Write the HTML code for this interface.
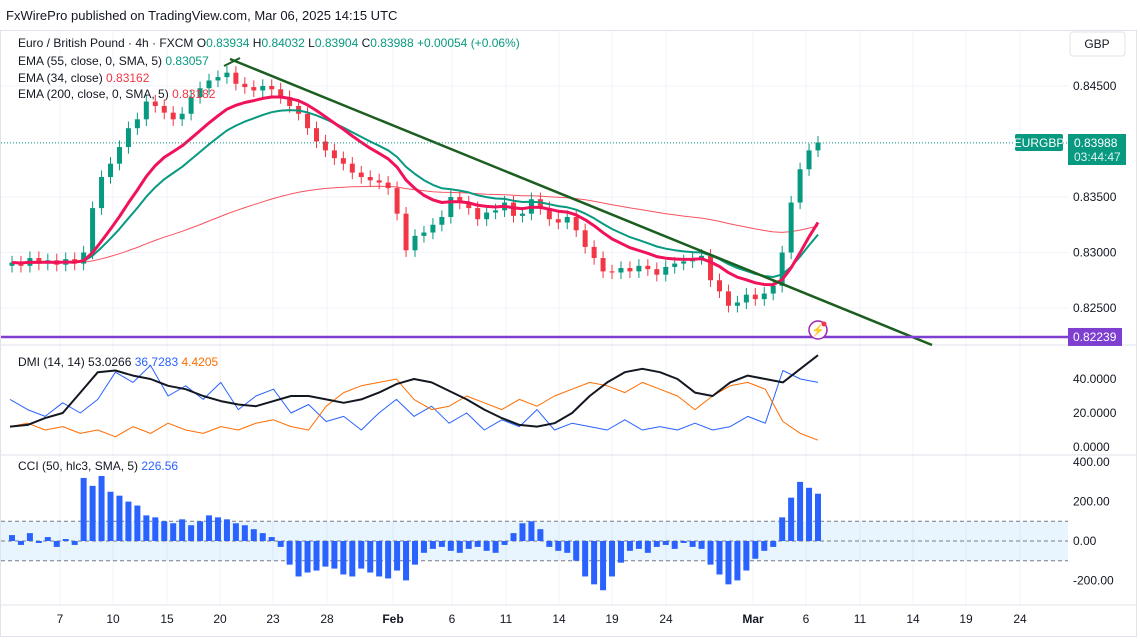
<!DOCTYPE html>
<html><head><meta charset="utf-8">
<style>
body{margin:0;background:#fff;font-family:"Liberation Sans",sans-serif;}
#wrap{position:relative;width:1140px;height:640px;overflow:hidden;}
svg text{font-family:"Liberation Sans",sans-serif;}
</style></head>
<body>
<div id="wrap">
<svg id="c" width="1140" height="640" xmlns="http://www.w3.org/2000/svg">
<rect x="0" y="0" width="1140" height="640" fill="#fff"/>
<text x="6" y="20" font-size="13" fill="#131722">FxWirePro published on TradingView.com, Mar 06, 2025 14:15 UTC</text>
<rect x="0.5" y="30.5" width="1136" height="606" fill="none" stroke="#e0e3eb"/>
<g id="grid"></g>
<g id="main"></g>
<g id="dmi"></g>
<g id="cci"></g>
<g id="axes"></g>
</svg>
</div>
<script>
const closes=[0.8291,0.8288,0.8295,0.8290,0.8293,0.8289,0.8294,0.8290,0.8300,0.8340,0.8368,0.8380,0.8395,0.8412,0.8420,0.8436,0.8432,0.8426,0.8420,0.8425,0.8440,0.8448,0.8455,0.8458,0.8462,0.8452,0.8449,0.8446,0.8450,0.8447,0.8440,0.8432,0.8425,0.8412,0.8400,0.8392,0.8385,0.8380,0.8372,0.8368,0.8365,0.8363,0.8358,0.8335,0.8302,0.8315,0.8318,0.8325,0.8332,0.8350,0.8345,0.8340,0.8330,0.8336,0.8338,0.8345,0.8333,0.8335,0.8348,0.8340,0.8330,0.8327,0.8332,0.8320,0.8305,0.8295,0.8283,0.8282,0.8286,0.8283,0.8288,0.8285,0.8280,0.8287,0.8290,0.8292,0.8295,0.8297,0.8275,0.8265,0.8252,0.8255,0.8262,0.8258,0.8263,0.8270,0.8300,0.8345,0.8375,0.8392,0.8399];
const cciVals=[30,-20,40,-10,20,-30,10,-20,320,280,330,250,230,200,180,130,120,100,90,110,80,100,130,120,110,90,80,60,40,20,-30,-120,-180,-160,-150,-130,-140,-170,-180,-140,-160,-180,-190,-150,-200,-120,-60,-40,-30,-50,-60,-40,-30,-50,-60,-20,40,90,100,60,-30,-50,-60,-100,-180,-220,-250,-180,-110,-50,-40,-60,-30,-20,-40,-10,-30,-40,-120,-170,-220,-200,-150,-90,-50,-30,120,220,300,270,240];
const adxVals=[12,13,17,20,32,44,45,42,40,36,34,30,27,25,24,27,30,30,28,26,28,32,37,40,38,33,28,22,17,13,12,14,20,30,38,44,46,44,40,32,30,38,42,40,38,46,54];
const plusDiVals=[28,22,18,26,20,28,44,38,48,30,36,28,38,22,30,34,20,25,15,18,10,20,28,18,24,14,20,10,16,12,22,10,14,12,10,16,10,12,10,14,10,12,18,14,45,40,38];
const minusDiVals=[12,14,10,12,8,10,6,12,8,14,10,8,12,10,14,16,12,10,24,32,36,38,40,28,22,24,30,26,22,28,24,30,34,38,36,32,38,34,30,22,30,36,38,34,15,8,4];
const priceTicks=[0.845,0.835,0.830,0.825];
const dmiTicks=[40,20,0];
const cciTicks=[400,200,0,-200];
const timeLabels=["7","10","15","20","23","28","Feb","6","11","14","19","24","Mar","6","11","14","19","24"];

const NS="http://www.w3.org/2000/svg";
function mk(tag,attrs,parent){const e=document.createElementNS(NS,tag);for(const k in attrs)e.setAttribute(k,attrs[k]);parent.appendChild(e);return e;}
const X0=12,X1=818,N=closes.length;
const bx=i=>X0+i*(X1-X0)/(N-1);
const py=p=>86+(0.845-p)/0.005*55.5;
const dy=v=>447-v*1.7;
const cy=v=>541-v*0.197;
const timeX=[60,113,167,220,273,327,393,452,506,559,612,666,753,806,860,913,966,1020];
const grid=document.getElementById('grid'),main=document.getElementById('main'),dmi=document.getElementById('dmi'),cci=document.getElementById('cci'),axes=document.getElementById('axes');
timeX.forEach(x=>{const l=mk('line',{x1:x,y1:31,x2:x,y2:605,stroke:'#f0f3fa'},grid);});
priceTicks.forEach(p=>{const l=mk('line',{x1:1,y1:py(p),x2:1068,y2:py(p),stroke:'#f0f3fa'},grid);});
[345,455,605].forEach(y=>{const l=mk('line',{x1:1,y1:y,x2:1136,y2:y,stroke:'#e0e3eb'},grid);});
function ema(arr,n){const k=2/(n+1);let o=[],v=arr[0];arr.forEach(a=>{v=a*k+v*(1-k);o.push(v);});return o;}
function line(vals,yf,xf,color,w,parent,name){const d=vals.map((v,i)=>(i?'L':'M')+xf(i).toFixed(1)+','+yf(v).toFixed(1)).join('');const p=mk('path',{d:d,fill:'none',stroke:color,'stroke-width':w,'stroke-linejoin':'round'},parent);}
line(ema(closes,80),py,bx,'#f7525f',1,main,'ema-200-line');
closes.forEach((c,i)=>{const o=i?closes[i-1]:c-0.0003;const up=c>=o;const col=up?'#089981':'#f23645';
const hi=Math.max(o,c)+0.0006,lo=Math.min(o,c)-0.0006;const x=bx(i);
const w=mk('line',{x1:x,y1:py(hi),x2:x,y2:py(lo),stroke:col,'stroke-width':1},main);
const top=py(Math.max(o,c)),h=Math.max(1,py(Math.min(o,c))-top);
const r=mk('rect',{x:x-2.5,y:top,width:5,height:h,fill:col},main);});
line(ema(closes,18),py,bx,'#089981',2,main,'ema-55-line');
line(ema(closes,12),py,bx,'#f0135a',3,main,'ema-34-line');
let t=mk('line',{x1:230,y1:59,x2:932,y2:345,stroke:'#1b5e20','stroke-width':2.5},main);
t=mk('line',{x1:224,y1:66,x2:240,y2:58,stroke:'#1b5e20','stroke-width':2},main);
t=mk('line',{x1:1,y1:py(0.82239),x2:1068,y2:py(0.82239),stroke:'#7e3fd0','stroke-width':2.5},main);
t=mk('line',{x1:1,y1:py(0.83988),x2:1068,y2:py(0.83988),stroke:'#089981','stroke-width':1,'stroke-dasharray':'1 2'},main);
t=mk('circle',{cx:818,cy:330,r:9,fill:'#fff',stroke:'#9c27b0','stroke-width':1.5},main);
t=mk('text',{x:818,y:334,'font-size':11,fill:'#9c27b0','text-anchor':'middle'},main);t.textContent='⚡';
t=mk('circle',{cx:824,cy:324,r:2.5,fill:'#f23645'},main);
const dx=n=>i=>X0-2+i*(X1-X0+2)/(n-1);
line(plusDiVals,dy,dx(plusDiVals.length),'#2962ff',1,dmi,'plus-di-line');
line(minusDiVals,dy,dx(minusDiVals.length),'#ff6d00',1,dmi,'minus-di-line');
line(adxVals,dy,dx(adxVals.length),'#131722',2,dmi,'adx-line');
t=mk('rect',{x:1,y:cy(100),width:1067,height:cy(-100)-cy(100),fill:'rgba(33,150,243,0.1)'},cci);
[100,0,-100].forEach(v=>{const l=mk('line',{x1:1,y1:cy(v),x2:1068,y2:cy(v),stroke:'#787b86','stroke-dasharray':'4 3','stroke-width':1},cci);});
cciVals.forEach((v,i)=>{const y0=cy(0),y1=cy(v);const r=mk('rect',{x:bx(i)-3,y:Math.min(y0,y1),width:6,height:Math.abs(y1-y0),fill:'#2962ff'},cci);});
function txt(s,x,y,opts,name){const e=mk('text',Object.assign({x:x,y:y,'font-size':12,fill:'#131722'},opts||{}),axes);e.textContent=s;return e;}
priceTicks.forEach(p=>txt(p.toFixed(5),1073,py(p)+4,{},'price-tick'));
dmiTicks.forEach(v=>txt(v.toFixed(4),1073,dy(v)+4,{},'dmi-tick'));
cciTicks.forEach(v=>txt(v.toFixed(2),1073,cy(v)+4,{},'cci-tick'));
timeLabels.forEach((s,i)=>txt(s,timeX[i],623,{'text-anchor':'middle','font-weight':(s==='Feb'||s==='Mar')?'bold':'normal'},'time-tick'));
let b=mk('rect',{x:1070,y:32,width:55,height:24,rx:3,fill:'#fff',stroke:'#e0e3eb'},axes);
txt('GBP',1097,48,{'text-anchor':'middle'},'currency-label');
b=mk('rect',{x:1015,y:134,width:48,height:17,rx:2,fill:'#089981'},axes);
txt('EURGBP',1039,147,{'text-anchor':'middle',fill:'#fff'},'symbol-tag-text');
b=mk('rect',{x:1068,y:134,width:58,height:31,fill:'#089981'},axes);
txt('0.83988',1074,147,{fill:'#fff'},'last-price-text');
txt('03:44:47',1074,161,{fill:'#e0f2f1'},'countdown-text');
b=mk('rect',{x:1068,y:py(0.82239)-9,width:54,height:18,fill:'#7e3fd0'},axes);
txt('0.82239',1073,py(0.82239)+4,{fill:'#fff'},'level-price-text');
const L=(x,y,parts,name)=>{const e=mk('text',{x:x,y:y,'font-size':12,fill:'#131722'},axes);parts.forEach(p=>{const s=mk('tspan',{fill:p[1]||'#131722'},e);s.textContent=p[0];});};
const G='#089981',R='#f23645';
L(18,47,[['Euro / British Pound · 4h · FXCM  O'],['0.83934  ',G],['H'],['0.84032  ',G],['L'],['0.83904  ',G],['C'],['0.83988  ',G],['+0.00054 (+0.06%)',G]],'main-legend');
L(18,65,[['EMA (55, close, 0, SMA, 5)  '],['0.83057',G]],'ema55-legend');
L(18,82,[['EMA (34, close)  '],['0.83162',R]],'ema34-legend');
L(18,98,[['EMA (200, close, 0, SMA, 5)  '],['0.83182',R]],'ema200-legend');
L(18,366,[['DMI (14, 14)  '],['53.0266  ','#131722'],['36.7283  ','#2962ff'],['4.4205','#ff6d00']],'dmi-legend');
L(18,470,[['CCI (50, hlc3, SMA, 5)  '],['226.56','#2962ff']],'cci-legend');
</script>
</body></html>
